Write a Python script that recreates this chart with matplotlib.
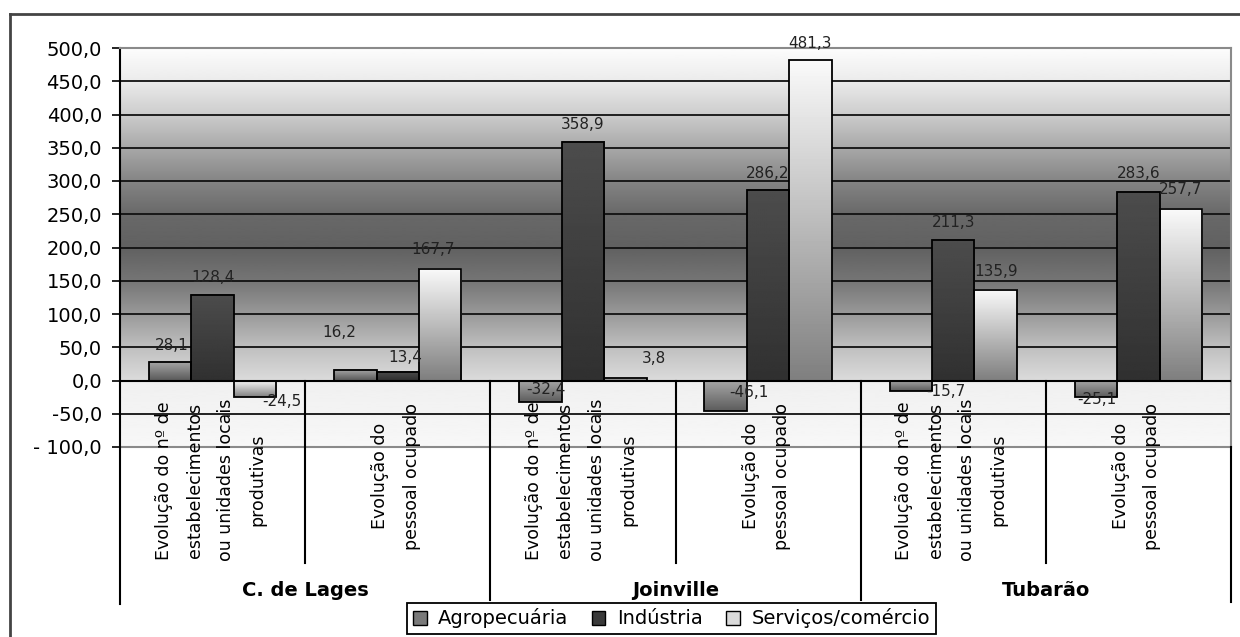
import numpy as np
import matplotlib
matplotlib.use("Agg")
import matplotlib.pyplot as plt
from matplotlib.patches import Patch
from matplotlib.lines import Line2D

plt.rcParams['font.family'] = ['DejaVu Sans']

# data: variation (%) per municipality and indicator
groups = ["C. de Lages", "Joinville", "Tubarão"]
indicators = ["Evolução do nº de\nestabelecimentos\nou unidades locais\nprodutivas",
              "Evolução do\npessoal ocupado"]
series_names = ["Agropecuária", "Indústria", "Serviços/comércio"]
agro = [28.1, 16.2, -32.4, -46.1, -15.7, -25.1]
industria = [128.4, 13.4, 358.9, 286.2, 211.3, 283.6]
servicos = [-24.5, 167.7, 3.8, 481.3, 135.9, 257.7]
ytick_values = [500, 450, 400, 350, 300, 250, 200, 150, 100, 50, 0, -50, -100]
ytick_labels = ["500,0", "450,0", "400,0", "350,0", "300,0", "250,0", "200,0",
                "150,0", "100,0", "50,0", "0,0", "-50,0", "- 100,0"]

# gradient colours per series (top gray, bottom gray) and label nudges in pixels
bar_shades = [(0.66, 0.36), (0.30, 0.19), (0.98, 0.50)]
legend_colors = ["#7a7a7a", "#3a3a3a", "#dadada"]
label_nudge = [
    [(2, 16), (-16, 37), (5, 13), (23, 19), (35, -1), (1, -2)],
    [(0, 18), (7, 14), (0, 17), (0, 17), (0, 17), (0, 18)],
    [(27, -5), (-7, 19), (29, 19), (0, 17), (0, 19), (0, 20)],
]

W, H = 1240, 637
fig = plt.figure(figsize=(W / 100, H / 100), dpi=100)
fig.patch.set_facecolor("white")

# outer frame (top and left edges)
fig.add_artist(Line2D([10 / W, 1.0], [1 - 14 / H, 1 - 14 / H], color="#444444", lw=2))
fig.add_artist(Line2D([10 / W, 10 / W], [0, 1 - 14 / H], color="#444444", lw=2))

ax = fig.add_axes([120 / W, 190 / H, 1111 / W, 399 / H])
ncat = len(agro)
ymin, ymax = -100, 500

# wall gradient
gv = np.linspace(ymax, ymin, 600)
stops_v = [-100, -1, 0, 50, 100, 150, 200, 250, 300, 350, 400, 450, 500]
stops_g = [0.97, 0.94, 0.86, 0.75, 0.60, 0.46, 0.38, 0.41, 0.52, 0.66, 0.80, 0.92, 0.99]
wall = np.interp(gv, stops_v, stops_g).reshape(-1, 1)
ax.imshow(wall, cmap="gray", vmin=0, vmax=1, extent=[0, ncat, ymin, ymax],
          aspect="auto", zorder=0, interpolation="bilinear")

for v in range(-50, 500, 50):
    ax.axhline(v, color="#111111", lw=1.3, zorder=1)

width = 0.229
x = np.arange(ncat) + 0.5
all_series = [agro, industria, servicos]
for s, vals in enumerate(all_series):
    xs = x + (s - 1) * width
    top, bot = bar_shades[s]
    grad = np.linspace(top, bot, 100).reshape(-1, 1)
    for xi, v in zip(xs, vals):
        ax.imshow(grad, cmap="gray", vmin=0, vmax=1,
                  extent=[xi - width / 2, xi + width / 2, min(0, v), max(0, v)],
                  aspect="auto", zorder=2, interpolation="bilinear")
    ax.bar(xs, vals, width=width, facecolor="none", edgecolor="black", lw=1.3, zorder=3)
    for i, (xi, v) in enumerate(zip(xs, vals)):
        dx, dy = label_nudge[s][i]
        ax.annotate(f"{v:.1f}".replace(".", ","), (xi, v), xytext=(dx, dy),
                    textcoords="offset pixels", ha="center", va="center",
                    fontsize=11, color="#222222", zorder=5)

ax.set_xlim(0, ncat)
ax.set_ylim(ymin, ymax)
ax.set_xticks([])
ax.set_yticks(ytick_values)
ax.set_yticklabels(ytick_labels)
ax.tick_params(axis="y", length=6, width=1.2, labelsize=14, pad=7, colors="black")
for side in ["top", "right", "bottom"]:
    ax.spines[side].set_color("#8a8a8a")
    ax.spines[side].set_linewidth(1.5)
ax.spines["left"].set_linewidth(1.5)
ax.spines["left"].set_color("black")

# category table under the zero line
for xi in [1, 3, 5]:
    ax.plot([xi, xi], [0, -274], color="black", lw=1.5, clip_on=False, zorder=4)
for xi in [2, 4]:
    ax.plot([xi, xi], [0, -330], color="black", lw=1.5, clip_on=False, zorder=4)
ax.plot([0, 0], [-100, -336], color="black", lw=1.5, clip_on=False, zorder=4)
ax.plot([ncat, ncat], [-100, -333], color="black", lw=1.5, clip_on=False, zorder=4)
ax.axhline(0, color="black", lw=1.5, zorder=4)

for i in range(ncat):
    label = indicators[i % 2]
    ax.text(x[i] - 0.01, -150 if i % 2 == 0 else -144, label, rotation=90,
            ha="center", va="center", multialignment="center",
            fontsize=12.5, linespacing=1.95, clip_on=False)
for g, name in enumerate(groups):
    ax.text(2 * g + 1, -316, name, ha="center", va="center",
            fontsize=14, fontweight="bold", clip_on=False)

handles = [Patch(facecolor=c, edgecolor="black", lw=1) for c in legend_colors]
leg = fig.legend(handles, series_names, loc="center", ncol=3,
                 bbox_to_anchor=(671.5 / W, 1 - 618.5 / H), fontsize=14,
                 handlelength=0.7, handleheight=0.7, handletextpad=0.6,
                 columnspacing=1.2, borderpad=0.3, borderaxespad=0, fancybox=False,
                 frameon=True, edgecolor="black", framealpha=1)
leg.get_frame().set_linewidth(1.3)

fig.savefig("out.png", dpi=100)
